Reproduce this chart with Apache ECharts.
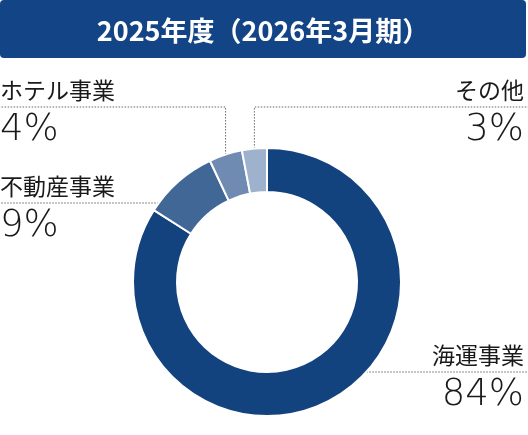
<!DOCTYPE html>
<html lang="ja">
<head>
<meta charset="UTF-8">
<title>2025年度 事業別構成</title>
<script src="https://cdn.jsdelivr.net/npm/echarts@6/dist/echarts.min.js"></script>
<style>
    html, body { margin: 0; padding: 0; background: #fff; }
    #main { width: 528px; height: 435px; }
</style>
</head>
<body>
<div id="main"></div>
<script>
    // データ
    var titleText = '2025年度（2026年3月期）';
    var segments = ['海運事業', '不動産事業', 'ホテル事業', 'その他'];
    var shares = [84, 9, 4, 3];
    var colors = ['#13437f', '#416797', '#6f8bb2', '#9fb2cd'];

    // 円の位置と大きさ
    var cx = 267, cy = 282, rOut = 134, rIn = 90;

    // ラベルの置き場所（引き出し線の高さ、左右、線の出し方）
    var labelPos = [
        { lineY: 372, side: 'right', mode: 'flat' },
        { lineY: 203, side: 'left', mode: 'flat' },
        { lineY: 107, side: 'left', mode: 'up' },
        { lineY: 107, side: 'right', mode: 'up' }
    ];

    var total = shares.reduce(function (a, b) { return a + b; }, 0);

    // スライス中央の外周の点
    function midPoint(idx) {
        var cum = 0;
        for (var i = 0; i < idx; i++) cum += shares[i];
        var t = 2 * Math.PI * (cum + shares[idx] / 2) / total;
        return [cx + rOut * Math.sin(t), cy - rOut * Math.cos(t)];
    }

    var myChart = echarts.init(document.getElementById('main'));

    var option = {
        animation: false,
        graphic: [
            {
                type: 'rect',
                shape: { x: 0, y: 0, width: 526, height: 58, r: 4 },
                style: { fill: '#134485' }
            },
            {
                type: 'text',
                x: 263, y: 31,
                style: {
                    text: titleText,
                    fill: '#fff',
                    fontSize: 27,
                    fontWeight: 'bold',
                    fontFamily: 'Noto Sans CJK JP',
                    align: 'center',
                    verticalAlign: 'middle'
                }
            }
        ],
        series: [{
            type: 'pie',
            center: [cx, cy],
            radius: [rIn, rOut],
            clockwise: true,
            startAngle: 90,
            emphasis: { disabled: true },
            itemStyle: { borderColor: '#fff', borderWidth: 2 },
            data: segments.map(function (name, i) {
                return { name: name, value: shares[i], itemStyle: { color: colors[i] } };
            }),
            label: {
                show: true,
                overflow: 'none',
                formatter: '{n|{b}}\n{p|{c}%}',
                rich: {
                    n: { fontSize: 23, lineHeight: 34, color: '#1a1a1a', fontFamily: 'Noto Sans CJK JP' },
                    p: { fontSize: 37, lineHeight: 46, color: '#1a1a1a', fontFamily: 'DejaVu Sans', fontWeight: 200 }
                }
            },
            labelLine: {
                show: true,
                smooth: false,
                lineStyle: { color: '#666', width: 1, type: [1.5, 1.5] }
            },
            labelLayout: function (p) {
                var lp = labelPos[p.dataIndex];
                var left = lp.side === 'left';
                var edgeX = left ? 0 : 528;
                var pts;
                if (lp.mode === 'up') {
                    var a = midPoint(p.dataIndex);
                    pts = [a, [a[0], lp.lineY], [edgeX, lp.lineY]];
                } else {
                    var dy = lp.lineY - cy;
                    var dx = Math.sqrt(rOut * rOut - dy * dy);
                    var x0 = left ? cx - dx : cx + dx;
                    pts = [[x0, lp.lineY], [(x0 + edgeX) / 2, lp.lineY], [edgeX, lp.lineY]];
                }
                return {
                    x: left ? 0 : 524,
                    y: lp.lineY - 34,
                    align: left ? 'left' : 'right',
                    verticalAlign: 'top',
                    labelLinePoints: pts
                };
            }
        }]
    };

    myChart.setOption(option);
</script>
</body>
</html>
